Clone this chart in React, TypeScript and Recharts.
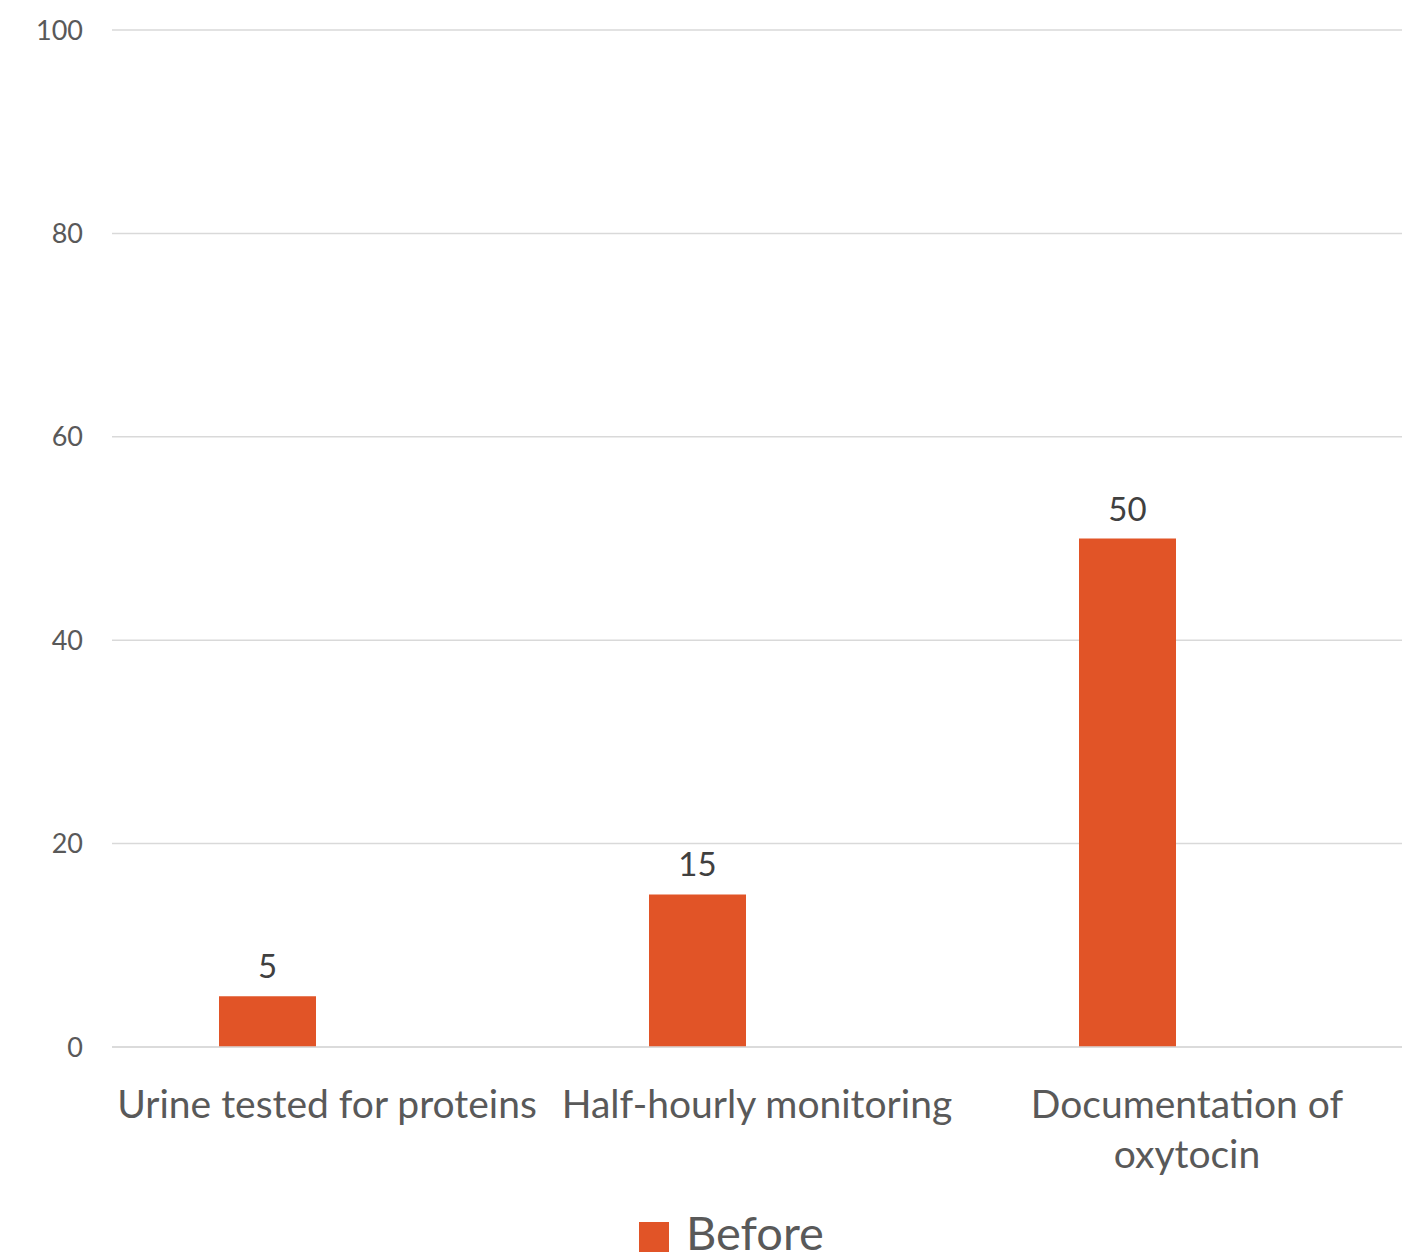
import { BarChart, Bar, XAxis, YAxis, CartesianGrid, Legend, LabelList } from 'recharts';

// categories and values
const categories = ['Urine tested for proteins', 'Half-hourly monitoring', 'Documentation of oxytocin'];
const beforeValues = [5, 15, 50];
// second (empty) series keeps the bars shifted left inside each group, like the original
const afterValues: (number | null)[] = [null, null, null];
const yTicks = [0, 20, 40, 60, 80, 100];

const data = categories.map((name, i) => ({
    name,
    before: beforeValues[i],
    after: afterValues[i],
}));

const FONT = 'Lato, "Open Sans", sans-serif';
const ORANGE = '#E15427';
const GREY = '#595959';
const TICK_FONT_SIZE = 39;
const TICK_WRAP_WIDTH = 428;

let measureCtx: CanvasRenderingContext2D | null = null;
const textWidth = (s: string) => {
    if (!measureCtx) measureCtx = document.createElement('canvas').getContext('2d');
    if (!measureCtx) return s.length * TICK_FONT_SIZE * 0.5;
    measureCtx.font = `${TICK_FONT_SIZE}px Lato`;
    return measureCtx.measureText(s).width;
};

// greedy word wrap, like the category labels in the original
const wrapLabel = (label: string) => {
    const lines: string[] = [];
    let current = '';
    label.split(' ').forEach(word => {
        const next = current ? `${current} ${word}` : word;
        if (current && textWidth(next) > TICK_WRAP_WIDTH) {
            lines.push(current);
            current = word;
        } else {
            current = next;
        }
    });
    if (current) lines.push(current);
    return lines;
};

const CategoryTick = ({ x, y, payload }: any) => {
    const lines = wrapLabel(String(payload.value));
    return (
        <text x={x} y={y + 71} textAnchor="middle" fill={GREY} fontSize={TICK_FONT_SIZE} fontFamily={FONT}>
            {lines.map((line, i) => (
                <tspan key={i} x={x} dy={i === 0 ? 0 : 50}>
                    {line}
                </tspan>
            ))}
        </text>
    );
};

const LegendContent = () => (
    <div style={{ height: 45, display: 'flex', alignItems: 'flex-end', paddingLeft: 631 }}>
        <span style={{ width: 30, height: 30, background: ORANGE, display: 'inline-block' }} />
        <span style={{ marginLeft: 17, fontSize: 47, lineHeight: '47px', color: GREY, fontFamily: FONT, position: 'relative', top: 4 }}>
            Before
        </span>
    </div>
);

const App = () => {
    return (
        <div style={{ width: 1411, height: 1250, fontFamily: FONT, background: '#fff' }}>
            <BarChart
                width={1411}
                height={1250}
                data={data}
                margin={{ top: 22, right: 17, left: 0, bottom: 6 }}
                barSize={97}
                barGap={22}
            >
                <CartesianGrid vertical={false} stroke="#D9D9D9" strokeWidth={1.5} />
                <XAxis
                    dataKey="name"
                    height={160}
                    interval={0}
                    tickLine={false}
                    tickSize={0}
                    tickMargin={0}
                    axisLine={{ stroke: '#D9D9D9', strokeWidth: 1.5 }}
                    tick={<CategoryTick />}
                />
                <YAxis
                    width={104}
                    domain={[0, 100]}
                    ticks={yTicks}
                    axisLine={false}
                    tickLine={false}
                    tickSize={0}
                    tickMargin={29}
                    tick={{ fill: GREY, fontSize: 27, fontFamily: FONT }}
                />
                <Legend verticalAlign="bottom" height={45} content={<LegendContent />} />
                <Bar dataKey="before" name="Before" fill={ORANGE} isAnimationActive={false}>
                    <LabelList dataKey="before" position="top" offset={18} fill="#404040" fontSize={33} fontFamily={FONT} />
                </Bar>
                <Bar dataKey="after" name="After" fill="transparent" legendType="none" isAnimationActive={false} />
            </BarChart>
        </div>
    );
};

export default App;
